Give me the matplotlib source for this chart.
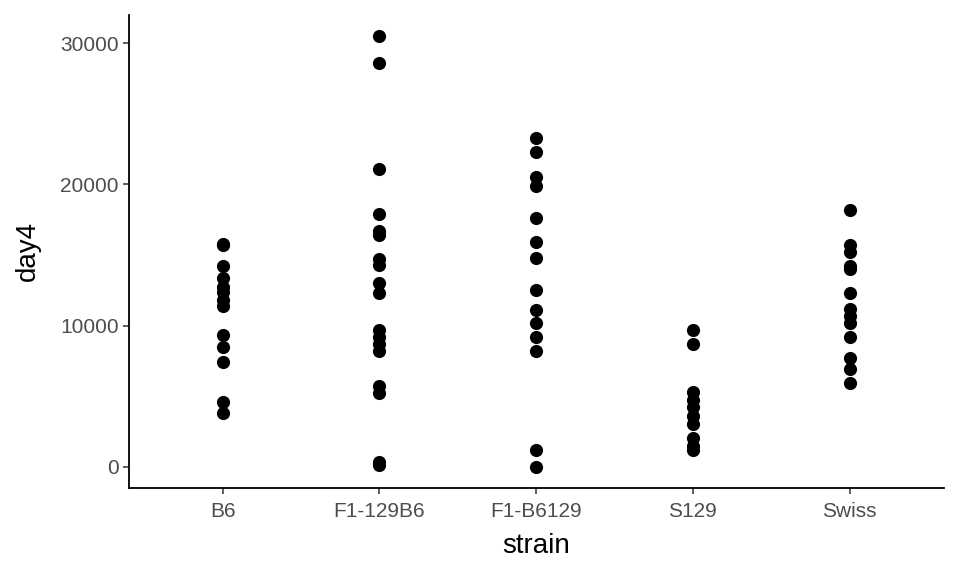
import matplotlib
matplotlib.use('Agg')
import matplotlib.pyplot as plt
import numpy as np

# values, one list per strain
strains = ['B6', 'F1-129B6', 'F1-B6129', 'S129', 'Swiss']
b6 = [15800, 15700, 14200, 13400, 12700, 12400, 11800, 11400, 9300, 8500, 7400, 4600, 3800]
f1_129b6 = [30500, 28600, 21100, 17900, 16700, 16400, 14700, 14300, 13000, 12300,
            9700, 9200, 8700, 8200, 5700, 5200, 300, 100]
f1_b6129 = [23300, 22300, 20500, 19900, 17600, 15900, 14800, 12500, 11100, 10200,
            9200, 8200, 1200, 0]
s129 = [9700, 8700, 5300, 4700, 4200, 3600, 3000, 2000, 1500, 1200]
swiss = [18200, 15700, 15200, 14200, 14000, 12300, 11200, 10700, 10200, 9200,
         7700, 6900, 5900]
day4 = [b6, f1_129b6, f1_b6129, s129, swiss]

plt.rcParams['font.family'] = ['Liberation Sans', 'DejaVu Sans']

fig = plt.figure(figsize=(9.6, 5.76), dpi=100)
ax = fig.add_axes([0.134, 0.153, 0.849, 0.821])

for i, vals in enumerate(day4):
    ax.scatter(np.full(len(vals), i + 1), vals, s=90, color='black', linewidths=0, zorder=3)

ax.set_xlim(0.4, 5.6)
ax.set_ylim(-1500, 32000)
ax.set_xticks(range(1, len(strains) + 1))
ax.set_xticklabels(strains)
ax.set_yticks([0, 10000, 20000, 30000])
ax.set_yticklabels(['0', '10000', '20000', '30000'])

for side in ['top', 'right']:
    ax.spines[side].set_visible(False)
for side in ['left', 'bottom']:
    ax.spines[side].set_linewidth(1.3)
    ax.spines[side].set_color('black')

ax.tick_params(axis='both', length=4, width=1.1, color='#333333',
               labelcolor='#4D4D4D', labelsize=15, pad=3)
ax.tick_params(axis='x', pad=6)
ax.set_xlabel('strain', fontsize=20, labelpad=9)
ax.set_ylabel('day4', fontsize=20, labelpad=14)

fig.savefig('out.png', dpi=100)
